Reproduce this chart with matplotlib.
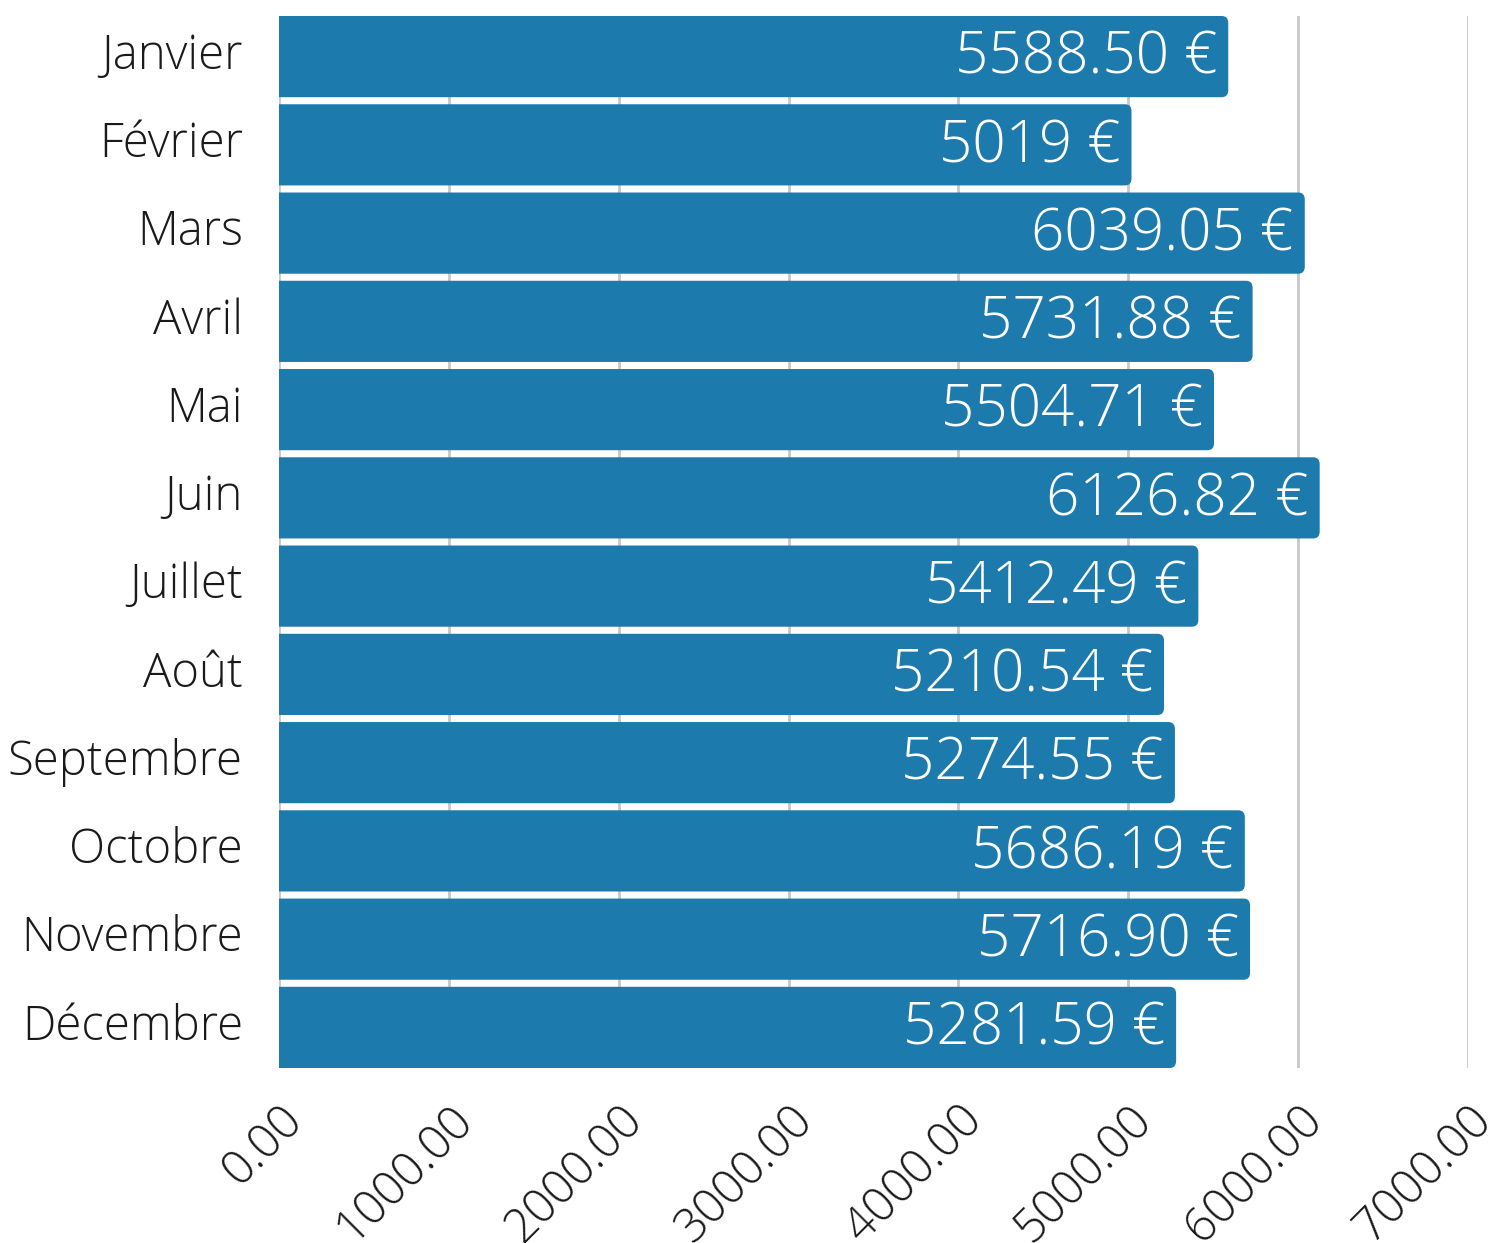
import matplotlib
matplotlib.use("Agg")
import matplotlib.pyplot as plt
import matplotlib.transforms as mtransforms
from matplotlib.patches import FancyBboxPatch

months = ['Janvier', 'Février', 'Mars', 'Avril', 'Mai', 'Juin', 'Juillet',
          'Août', 'Septembre', 'Octobre', 'Novembre', 'Décembre']
values = [5588.50, 5019, 6039.05, 5731.88, 5504.71, 6126.82, 5412.49,
          5210.54, 5274.55, 5686.19, 5716.90, 5281.59]
value_labels = ['5588.50 €', '5019 €', '6039.05 €', '5731.88 €', '5504.71 €',
                '6126.82 €', '5412.49 €', '5210.54 €', '5274.55 €', '5686.19 €',
                '5716.90 €', '5281.59 €']
xticks = [0, 1000, 2000, 3000, 4000, 5000, 6000, 7000]

plt.rcParams['font.family'] = ['Open Sans', 'DejaVu Sans']
plt.rcParams['font.weight'] = 'light'

color = '#1d7aad'
h = 0.92

fig = plt.figure(figsize=(14.93, 12.43), dpi=100)
ax = fig.add_axes([279 / 1493, 1 - 1068 / 1243, (1468 - 279) / 1493, (1068 - 16) / 1243])

bars = ax.barh(range(len(months)), values, height=h, color=color, zorder=2)
# swap plain bars for ones with rounded right corners
# (box starts left of 0 so the axes clip hides its left rounding)
for b in bars:
    x0, y0, w, hh = b.get_x(), b.get_y(), b.get_width(), b.get_height()
    b.set_visible(False)
    ax.add_patch(FancyBboxPatch((x0 - 300, y0), w + 300, hh,
                                boxstyle="round,pad=0,rounding_size=38",
                                mutation_aspect=0.0021, fc=color, ec='none', zorder=2))

for i, (v, lab) in enumerate(zip(values, value_labels)):
    ax.text(v - 65, i + 0.02, lab, ha='right', va='center', color='white',
            fontsize=42, fontweight='light', zorder=3)

ax.set_xlim(0, 7000)
ax.set_ylim(len(months) - 1 + h / 2, -h / 2)
ax.set_yticks(range(len(months)))
ax.set_yticklabels(months, fontsize=34, color='#1a1a1a', va='center')
ax.set_xticks(xticks)
ax.set_xticklabels(['%.2f' % t for t in xticks], fontsize=34, color='#1a1a1a',
                   rotation=45, ha='right', va='top', rotation_mode='anchor')
offset = mtransforms.ScaledTranslation(0.3, 0.05, fig.dpi_scale_trans)
for lbl in ax.get_xticklabels():
    lbl.set_transform(lbl.get_transform() + offset)

ax.tick_params(axis='both', length=0)
ax.tick_params(axis='y', pad=26)
ax.tick_params(axis='x', pad=20)
ax.grid(axis='x', color='#c8c8c8', linewidth=2, zorder=0)
ax.set_axisbelow(True)
for s in ax.spines.values():
    s.set_visible(False)

fig.savefig('out.png', dpi=100)
